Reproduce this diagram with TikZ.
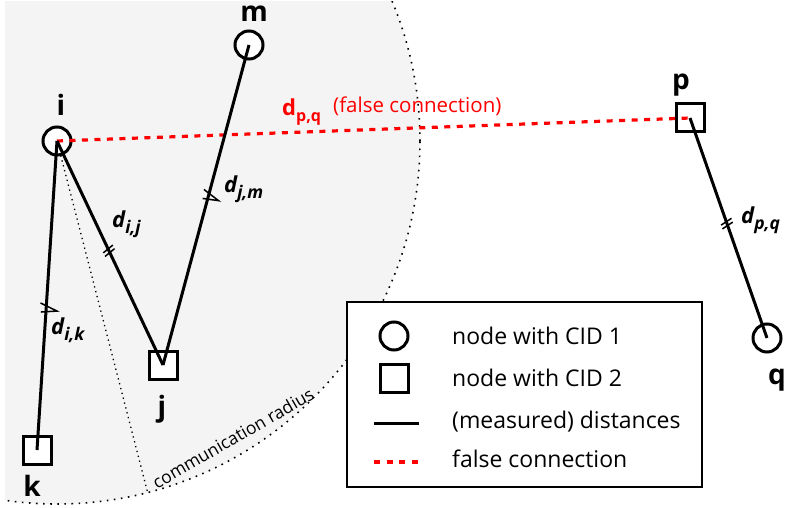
\documentclass[tikz,border=0pt]{standalone}
\usepackage{fontspec}
\setmainfont{Open Sans}
\usetikzlibrary{decorations.markings,backgrounds}
\definecolor{areagray}{RGB}{244,244,244}
\definecolor{falsered}{RGB}{255,0,0}

% distance label: bold italic d with a lowered subscript
\newcommand{\distlabel}[1]{{\fontsize{22}{22}\selectfont\bfseries\itshape d\raisebox{-6pt}{\fontsize{17.5}{17.5}\selectfont #1}}}

\begin{document}
\begin{tikzpicture}[x=1pt,y=-1pt,
  cidone/.style={circle, draw, line width=3pt, fill=white, minimum size=28pt, inner sep=0pt},
  cidtwo/.style={rectangle, draw, line width=3pt, fill=white, minimum size=28pt, inner sep=0pt},
  nodelabel/.style={font=\fontsize{28}{28}\selectfont\bfseries, inner sep=0pt},
  distlbl/.style={anchor=base west, inner sep=0pt},
  dist/.style={line width=3pt},
  falseconn/.style={draw=falsered, line width=3.2pt, dash pattern=on 6pt off 6.5pt},
  legendtext/.style={anchor=base west, inner sep=0pt, font=\fontsize{23}{23}\selectfont},
  singletick/.style={postaction=decorate, decoration={markings, mark=at position #1 with {\draw[line width=1.5pt, line join=miter] (-4.5pt,-6pt) -- (2.5pt,11pt) -- (4.5pt,-5pt);}}},
  doubletick/.style={postaction=decorate, decoration={markings, mark=at position #1 with {\draw[line width=1.5pt] (-0.5pt,-6pt) -- (-3.5pt,6pt) (3.5pt,-6pt) -- (0.5pt,6pt);}}},
]
\useasboundingbox (0,0) rectangle (787,508);

% sensor nodes
\node[cidone] (i) at (57,141) {};
\node[cidone] (m) at (249,45) {};
\node[cidtwo] (j) at (163,365) {};
\node[cidtwo] (k) at (37,450) {};
\node[cidtwo] (p) at (690,118) {};
\node[cidone] (q) at (767,338) {};

% node names
\node[nodelabel] (li) at (61,105) {i};
\node[nodelabel] (lm) at (254,14) {m};
\node[nodelabel] (lj) at (162,409) {j};
\node[nodelabel] (lk) at (32,486) {k};
\node[nodelabel] (lp) at (681,85) {p};
\node[nodelabel] (lq) at (777,380) {q};

% communication range of i
\coordinate (rend) at (148,494);
\begin{scope}[on background layer]
  \clip (5,2) rectangle (787,508);
  \fill[areagray] (i.center) circle[radius=363pt];
  \draw[line width=1.6pt, dash pattern=on 1.6pt off 5.5pt] (i.center) circle[radius=363pt];
  \draw[line width=1.3pt, dash pattern=on 1.3pt off 3.7pt] (i.center) -- (rend);
\end{scope}
\node[rotate=30, inner sep=0pt, font=\fontsize{17.5}{17.5}\selectfont] (radius) at (233,438) {communication radius};

% false connection
\draw[falseconn] (i.center) -- (p.center);
\node[distlbl, text=falsered] (fcd) at (282,116) {\fontsize{22}{22}\selectfont\bfseries d\raisebox{-6pt}{\fontsize{16}{16}\selectfont p,q}};
\node[distlbl, text=falsered, font=\fontsize{20.5}{21}\selectfont] (fct) at (333,113) {(false connection)};

% measured distances
\draw[dist, singletick=0.54] (i.center) -- (k.center);
\draw[dist, doubletick=0.49] (i.center) -- (j.center);
\draw[dist, singletick=0.47] (m.center) -- (j.center);
\draw[dist, doubletick=0.48] (p.center) -- (q.center);

\node[distlbl] (dij) at (112,227) {\distlabel{i,j}};
\node[distlbl] (djm) at (224,192) {\distlabel{j,m}};
\node[distlbl] (dik) at (51,334) {\distlabel{i,k}};
\node[distlbl] (dpq) at (741,223) {\distlabel{p,q}};

% legend
\node[draw, line width=2.4pt, fill=white, minimum width=355pt, minimum height=185pt, inner sep=0pt] (legend) at (524.5,394.5) {};
\node[cidone] (leg1) at (394,336) {};
\node[cidtwo] (leg2) at (394,378) {};
\coordinate (leg3a) at (374,423);
\coordinate (leg3b) at (419,423);
\coordinate (leg4a) at (374,462);
\coordinate (leg4b) at (420,462);
\draw[dist] (leg3a) -- (leg3b);
\draw[falseconn] (leg4a) -- (leg4b);
\node[legendtext] (t1) at (452,344) {node with CID 1};
\node[legendtext] (t2) at (452,386) {node with CID 2};
\node[legendtext] (t3) at (452,428) {(measured) distances};
\node[legendtext] (t4) at (452,467) {false connection};
\end{tikzpicture}
\end{document}
